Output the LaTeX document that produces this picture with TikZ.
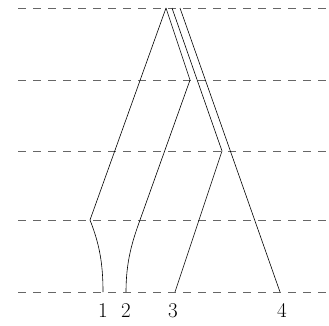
\documentclass[tikz,border=0pt]{standalone}
\begin{document}
\begin{tikzpicture}[x=1pt,y=-1pt,
  guide/.style={dash pattern=on 8pt off 7pt, black!60, line width=0.7pt},
  branch/.style={line width=0.6pt, black},
  lbl/.style={anchor=base, inner sep=0pt, font=\fontsize{21}{25}\selectfont}]
\useasboundingbox (0,0) rectangle (329,325);
\foreach \y in {8,80,151,220,292}
  \draw[guide] (18,\y) -- (327,\y);
% vertices
\coordinate (apex) at (166,8);
\coordinate (topc) at (172,8);
\coordinate (topd) at (180,8);
\coordinate (ka) at (90,220);
\coordinate (kb) at (190,80);
\coordinate (mb) at (140,220);
\coordinate (kc) at (222,151);
\coordinate (e1) at (103,292);
\coordinate (e2) at (126,292);
\coordinate (e3) at (175,292);
\coordinate (e4) at (280,292);
% labels
\node[lbl] (l1) at (103,317) {1};
\node[lbl] (l2) at (126,317) {2};
\node[lbl] (l3) at (173,317) {3};
\node[lbl] (l4) at (282,317) {4};
% branches
\draw[branch] (apex) -- (ka) .. controls (99,243) and (103,262) .. (e1);
\draw[branch] (apex) -- (kb) -- (mb) .. controls (132,242) and (126,262) .. (e2);
\draw[branch] (topc) -- (kc) -- (e3);
\draw[branch] (topd) -- (e4);
\end{tikzpicture}
\end{document}
